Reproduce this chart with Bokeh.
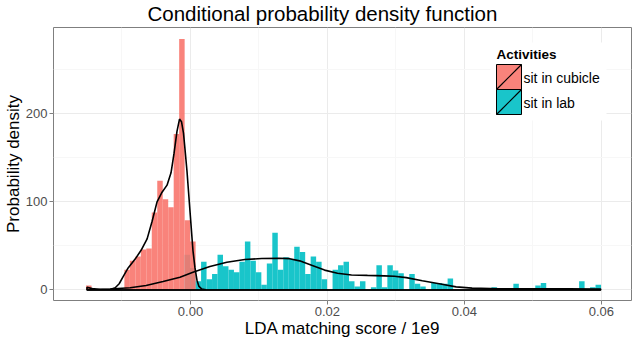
from bokeh.plotting import figure
from bokeh.models import Range1d, FixedTicker, NumeralTickFormatter, BoxAnnotation, Label, Arrow
from bokeh.embed import file_html
from bokeh.resources import INLINE

# ---- data ----
bin_start = -0.01525
bin_width = 0.0008

cubicle_hist = [5, 0, 0, 0, 0, 0, 0, 23, 33, 38, 46, 47, 88, 124, 103, 94, 177, 285, 79, 55]
lab_hist = [0, 0, 0, 0, 0, 0, 0, 0, 0, 0, 0, 0, 0, 0, 0, 0, 0, 0,
            40, 25, 10, 32, 12, 18, 40, 27, 23, 20, 32, 55,
            33, 20, 6, 30, 65, 23, 37, 35, 49, 43,
            18, 38, 32, 12, 0, 23, 28, 32, 10, 4,
            10, 0, 3, 28, 3, 28, 22, 19, 0, 18,
            7, 4, 0, 8, 8, 7, 13, 0, 0, 0,
            0, 0, 0, 2, 3, 0, 0, 0, 7, 0,
            0, 0, 5, 8, 0, 0, 0, 0, 0, 0,
            10, 0, 3, 6]

cubicle_dens_x = [-0.01511, -0.01434, -0.01317, -0.01172, -0.01099, -0.01041, -0.00983, -0.00910,
                  -0.00808, -0.00721, -0.00633, -0.00560, -0.00488, -0.00415, -0.00342, -0.00284,
                  -0.00240, -0.00197, -0.00160, -0.00131, -0.00102, -0.00080, -0.00051, -0.00022,
                  0.00007, 0.00036, 0.00066, 0.00095, 0.00124, 0.00167, 0.00226, 0.00313, 0.0599]
cubicle_dens_y = [3, 1.5, 0.4, 0.4, 2.5, 7, 15, 25,
                  35, 45, 58, 78, 100, 111, 119, 133,
                  155, 180, 194, 191, 178, 160, 135, 105,
                  75, 45, 25, 11, 4, 1, 0.2, 0, 0]

lab_dens_x = [-0.01507, -0.01172, -0.00881, -0.00648, -0.00400, -0.00153, 0.00036, 0.00284,
              0.00531, 0.00793, 0.01041, 0.01288, 0.01448, 0.01594, 0.01769, 0.01958,
              0.02147, 0.02351, 0.02584, 0.02831, 0.02977, 0.03152, 0.03385, 0.03632,
              0.03879, 0.04112, 0.04505, 0.05087, 0.05524, 0.0599]
lab_dens_y = [0.2, 1, 2.5, 5, 9.5, 14.5, 20, 26.5,
              31.5, 34.5, 35.7, 36, 35.5, 33, 28, 22.5,
              19, 17, 16.5, 16, 15.5, 14, 10.5, 7,
              3.5, 2, 1.4, 1.2, 1.2, 1]

groups = ["sit in cubicle", "sit in lab"]
colors = ["#F8766D", "#00BFC4"]
x_ticks = [0.0, 0.02, 0.04, 0.06]
x_minor = [-0.01, 0.01, 0.03, 0.05]
y_ticks = [0, 100, 200]
y_minor = [50, 150, 250]

FONT = "Liberation Sans"

p = figure(width=632, height=340, output_backend="svg", toolbar_location=None,
           x_range=Range1d(-0.0200, 0.0644), y_range=Range1d(-12, 298),
           min_border_left=51, min_border_right=1, min_border_top=25, min_border_bottom=40)

p.title.text = "Conditional probability density function"
p.title.text_font = FONT
p.title.text_font_size = "20.5px"
p.title.text_font_style = "normal"
p.title.align = "left"
p.title.offset = 94
p.title.standoff = 2
p.title.vertical_align = "top"
p.title.text_color = "black"

p.outline_line_color = "#7f7f7f"
p.outline_line_width = 1

def bins(hist):
    lefts = [bin_start + i * bin_width for i in range(len(hist))]
    rights = [l + bin_width for l in lefts]
    return lefts, rights

ll, lr = bins(lab_hist)
p.quad(left=ll, right=lr, bottom=0, top=lab_hist, fill_color=colors[1], fill_alpha=0.9, line_color=None)
cl, cr = bins(cubicle_hist)
p.quad(left=cl, right=cr, bottom=0, top=cubicle_hist, fill_color=colors[0], fill_alpha=0.9, line_color=None)

for xs, ys in [(cubicle_dens_x, cubicle_dens_y), (lab_dens_x, lab_dens_y)]:
    px = list(xs) + [xs[-1], xs[0]]
    py = list(ys) + [0, 0]
    p.patch(px, py, fill_color=None, line_color="black", line_width=1.6)

# axes
for ax in (p.xaxis, p.yaxis):
    ax.axis_line_color = None
    ax.major_tick_line_color = "#7f7f7f"
    ax.major_tick_out = 4
    ax.major_tick_in = 0
    ax.minor_tick_out = 0
    ax.minor_tick_in = 0
    ax.major_label_text_font = FONT
    ax.major_label_text_font_size = "13px"
    ax.major_label_text_color = "#4d4d4d"
    ax.axis_label_text_font = FONT
    ax.axis_label_text_font_size = "17px"
    ax.axis_label_text_font_style = "normal"
    ax.axis_label_text_color = "black"
    ax.axis_label_standoff = 0
    ax.major_label_standoff = 2

p.xaxis.ticker = FixedTicker(ticks=x_ticks, minor_ticks=x_minor)
p.xaxis.formatter = NumeralTickFormatter(format="0.00")
p.xaxis.axis_label = "LDA matching score / 1e9"
p.yaxis.ticker = FixedTicker(ticks=y_ticks, minor_ticks=y_minor)
p.yaxis.axis_label = "Probability density"
p.yaxis.axis_label_standoff = 0

for g in (p.xgrid, p.ygrid):
    g.grid_line_color = "#ebebeb"
    g.grid_line_width = 1
    g.minor_grid_line_color = "#f7f7f7"
    g.minor_grid_line_width = 1

# legend, drawn in frame pixels (x from frame left, y from frame bottom)
leg_left, leg_top = 443, 246      # title anchor
key_w, key_h = 25, 25
key_top0 = 236

p.add_layout(BoxAnnotation(left=leg_left - 6, right=leg_left + 110, top=leg_top + 12, bottom=key_top0 - 2 * key_h - 6,
                           left_units="screen", right_units="screen", top_units="screen", bottom_units="screen",
                           fill_color="white", fill_alpha=1, line_color=None))
p.add_layout(Label(x=leg_left, y=leg_top, x_units="screen", y_units="screen", text="Activities",
                   text_font=FONT, text_font_size="13.5px", text_font_style="bold",
                   text_baseline="middle", text_align="left", text_color="black"))
for i, (g, c) in enumerate(zip(groups, colors)):
    top = key_top0 - i * key_h
    bottom = top - key_h
    p.add_layout(BoxAnnotation(left=leg_left, right=leg_left + key_w, top=top, bottom=bottom,
                               left_units="screen", right_units="screen", top_units="screen", bottom_units="screen",
                               fill_color=c, fill_alpha=0.9, line_color="black", line_width=1, line_alpha=1))
    p.add_layout(Arrow(end=None, start=None, x_start=leg_left, y_start=bottom, x_end=leg_left + key_w, y_end=top,
                       start_units="screen", end_units="screen", line_color="black", line_width=1.2))
    p.add_layout(Label(x=leg_left + key_w + 2, y=(top + bottom) / 2 - 1, x_units="screen", y_units="screen", text=g,
                       text_font=FONT, text_font_size="14px", text_baseline="middle", text_align="left",
                       text_color="black"))

open("out.html", "w").write(file_html(p, INLINE))
